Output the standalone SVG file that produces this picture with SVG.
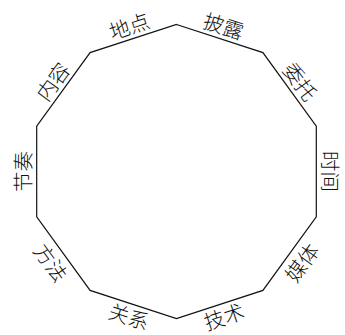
<svg xmlns="http://www.w3.org/2000/svg" width="345" height="335" viewBox="0 0 345 335">
<style>
.edge{fill:none;stroke:#111;stroke-width:1.2;stroke-linejoin:miter}
.lbl{font-family:"Noto Sans CJK SC","Noto Sans CJK JP",sans-serif;font-size:20.5px;font-weight:300;fill:#111;text-anchor:middle;dominant-baseline:central}
</style>
<rect width="345" height="335" fill="#fff"/>
<g id="connectors">
<polygon class="edge" points="176.5,24.5 262.9,52.6 316.3,126.1 316.3,216.9 262.9,290.4 176.5,318.5 90.1,290.4 36.7,216.9 36.7,126.1 90.1,52.6"/>
</g>
<g id="n-pilu"><text class="lbl" transform="translate(224.1,25) rotate(18)">披露</text></g>
<g id="n-weituo"><text class="lbl" transform="translate(301.1,81) rotate(54)">委托</text></g>
<g id="n-shijian"><text class="lbl" transform="translate(331,171.5) rotate(90)">时间</text></g>
<g id="n-meiti"><text class="lbl" transform="translate(301.1,262) rotate(-54)">媒体</text></g>
<g id="n-jishu"><text class="lbl" transform="translate(223.6,315.5) rotate(-18)">技术</text></g>
<g id="n-guanxi"><text class="lbl" transform="translate(129.4,315.5) rotate(18)">关系</text></g>
<g id="n-fangfa"><text class="lbl" transform="translate(51.9,262) rotate(54)">方法</text></g>
<g id="n-jiezou"><text class="lbl" transform="translate(21.5,171.5) rotate(-90)">节奏</text></g>
<g id="n-neirong"><text class="lbl" transform="translate(51.9,81) rotate(-54)">内容</text></g>
<g id="n-didian"><text class="lbl" transform="translate(128.9,25) rotate(-18)">地点</text></g>
</svg>
